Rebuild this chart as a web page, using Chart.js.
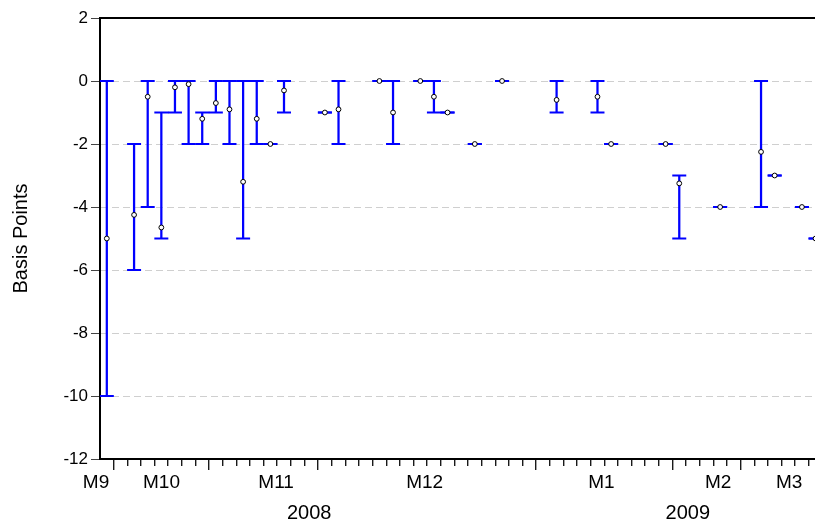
<!DOCTYPE html>
<html><head><meta charset="utf-8">
<script src="https://cdn.jsdelivr.net/npm/chart.js@4.4.0/dist/chart.umd.min.js"></script>
<style>html,body{margin:0;padding:0;overflow:hidden;background:#fff}#wrap{width:845px;height:525px}</style>
</head><body><div id="wrap"><canvas id="c" width="845" height="525"></canvas></div>
<script>
// Observation slots (one slot = one tick interval on the time axis)
const slots  = [0,2,3,4,5,6,7,8,9,10,11,12,13,16,17,20,21,23,24,25,27,29,33,36,37,41,42,45,48,49,51,52];
const highs  = [0,-2,0,-1,0,0,-1,0,0,0,0,-2,0,-1,0,0,0,0,0,-1,-2,0,0,0,-2,-2,-3,-4,0,-3,-4,-5];
const lows   = [-10,-6,-4,-5,-1,-2,-2,-1,-2,-5,-2,-2,-1,-1,-2,0,-2,0,-1,-1,-2,0,-1,-1,-2,-2,-5,-4,-4,-3,-4,-5];
const closes = [-5,-4.25,-0.5,-4.65,-0.2,-0.1,-1.2,-0.7,-0.9,-3.2,-1.2,-2,-0.3,-1,-0.9,0,-1,0,-0.5,-1,-2,0,-0.6,-0.5,-2,-2,-3.25,-4,-2.25,-3,-4,-5];

// Axis labels
const yTicks      = [2,0,-2,-4,-6,-8,-10,-12];
const monthLabels = ['M9','M10','M11','M12','M1','M2','M3'];
const monthPos    = [-0.29,4.51,12.92,23.82,36.79,45.36,50.56];
const yearLabels  = ['2008','2009'];
const yearPos     = [15.35,43.13];
const majorTicks  = [1,8,16,32,42,47];
const X_MAX = 54;
const minorTicks = [];
for (let i = 1; i < X_MAX; i++) minorTicks.push(i);

const BLUE = 'rgb(0,0,255)';
Chart.defaults.font.family = "'Liberation Sans', Arial, sans-serif";
Chart.defaults.color = '#000';

const barData = slots.map((s,i)=>({x:s+0.5, y:[lows[i], highs[i]]}));
const capData = slots.map((s,i)=>({x:s+0.5, y:highs[i]})).concat(slots.map((s,i)=>({x:s+0.5, y:lows[i]})));
const closeData = slots.map((s,i)=>({x:s+0.5, y:closes[i]}));

const setTicks = arr => (scale => { scale.ticks = arr.map(v => ({value:v})); });
const xBase = {type:'linear', position:'bottom', min:0, max:X_MAX, bounds:'data', offset:false};

new Chart(document.getElementById('c'), {
  type: 'bar',
  data: {
    datasets: [
      {type:'scatter', data: closeData, order:0, pointStyle:'circle', pointRadius:2.4,
       pointBorderWidth:1, pointBorderColor:'#000', pointBackgroundColor:'#fff', pointHoverRadius:2.4},
      {type:'scatter', data: capData, order:1, pointStyle:'line', pointRadius:7,
       pointBorderWidth:2, pointBorderColor:BLUE, pointBackgroundColor:BLUE, pointHoverRadius:7},
      {type:'bar', data: barData, order:2, barThickness:1.6, backgroundColor:BLUE, borderWidth:0}
    ]
  },
  options: {
    responsive:false, animation:false, events:[],
    layout:{padding:{top:18,right:6,left:0,bottom:0}},
    plugins:{legend:{display:false}, tooltip:{enabled:false}},
    scales:{
      x:{...xBase, weight:0,
         afterBuildTicks:setTicks(minorTicks),
         ticks:{display:false},
         grid:{display:true, offset:false, drawOnChartArea:false, drawTicks:true, tickLength:7,
               tickColor:'#1a1a1a', tickWidth:1.4, lineWidth:1.4, color:'#1a1a1a'},
         border:{display:true, color:'#000', width:2},
         afterFit:s=>{s.height=7;}},
      xMajor:{...xBase, weight:1,
         afterBuildTicks:setTicks(majorTicks),
         ticks:{display:false},
         grid:{display:true, offset:false, drawOnChartArea:false, drawTicks:true, tickLength:4,
               tickColor:'#1a1a1a', tickWidth:1.4, lineWidth:1.4, color:'#1a1a1a'},
         border:{display:false},
         afterFit:s=>{s.height=4;}},
      xMonths:{...xBase, weight:2,
         afterBuildTicks:setTicks(monthPos),
         ticks:{display:true, autoSkip:false, maxRotation:0, minRotation:0, padding:1,
                font:{size:19}, color:'#000', callback:(v,i)=>monthLabels[i]},
         grid:{offset:false, display:false, drawTicks:false, drawOnChartArea:false},
         border:{display:false},
         afterFit:s=>{s.height=19;}},
      xYears:{...xBase, weight:3,
         afterBuildTicks:setTicks(yearPos),
         ticks:{display:true, autoSkip:false, maxRotation:0, minRotation:0, padding:12,
                font:{size:20}, color:'#000', callback:(v,i)=>yearLabels[i]},
         grid:{offset:false, display:false, drawTicks:false, drawOnChartArea:false},
         border:{display:false},
         afterFit:s=>{s.height=36;}},
      xTop:{...xBase, position:'top',
         ticks:{display:false},
         grid:{offset:false, display:false, drawTicks:false, drawOnChartArea:false},
         border:{display:true, color:'#000', width:2},
         afterFit:s=>{s.height=0;}},
      y:{type:'linear', position:'left', min:-12, max:2, bounds:'data',
         afterBuildTicks:setTicks(yTicks),
         ticks:{font:{size:17}, color:'#000', padding:3, callback:v=>String(v)},
         grid:{drawOnChartArea:true, drawTicks:true, tickLength:9, tickColor:'#444', tickWidth:1,
               lineWidth:1,
               color:c=>(c.tick && (c.tick.value===2 || c.tick.value===-12)) ? 'rgba(0,0,0,0)' : '#cfcfcf'},
         border:{display:true, color:'#000', width:2, dash:[7,4]},
         title:{display:true, text:'Basis Points', font:{size:20}, color:'#000', padding:{top:9,bottom:0}},
         afterFit:s=>{s.width=100;}}
    }
  }
});
</script>
</body></html>
